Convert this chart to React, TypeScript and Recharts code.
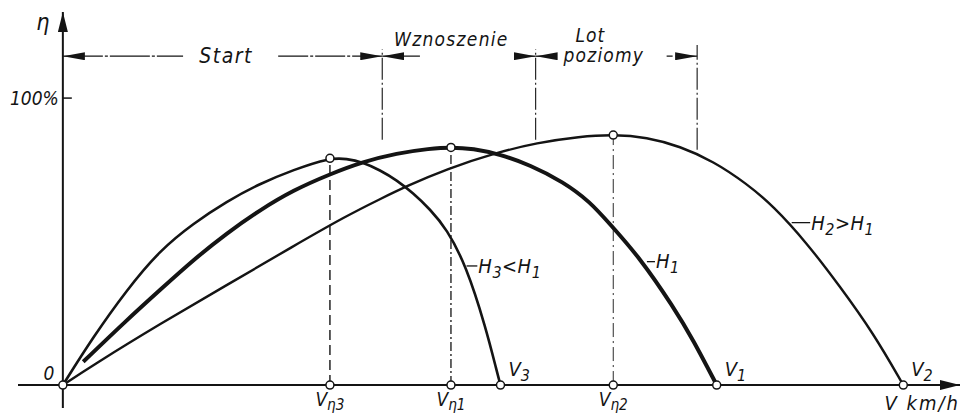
import React from "react";
import { LineChart, Line, XAxis, YAxis, ReferenceLine, ReferenceDot } from "recharts";

// krzywe sprawności śmigła η(V) dla trzech skoków H
const H3_V = [0, 3.39, 7.11, 10.82, 14.54, 18.26, 21.97, 25.68, 29.77, 31.63, 33.45, 35.35, 37.21, 39.03, 40.92, 42.78, 44.93, 47.16, 48.39, 48.78];
const H3_ETA = [0, 16.8, 33.1, 47.0, 56.3, 64.0, 70.2, 75.0, 79.2, 78.9, 77.6, 74.9, 71.4, 66.9, 61.3, 54.4, 41.8, 19.9, 4.5, 0];

const H1_V = [2.27, 7.11, 10.82, 14.54, 18.26, 21.97, 25.68, 29.77, 33.45, 37.21, 40.92, 43.26, 45.71, 48.72, 52.07, 55.78, 58.75, 60.98, 64.33, 68.04, 70.27, 72.88];
const H1_ETA = [8.1, 22.6, 33.1, 43.6, 52.9, 61.0, 67.9, 73.5, 77.8, 80.8, 82.4, 82.9, 82.4, 80.4, 76.7, 70.8, 63.9, 56.1, 44.3, 27.3, 15.7, 0];

const H2_V = [0, 3.39, 10.82, 18.26, 25.68, 31.63, 35.35, 38.32, 42.78, 48.36, 52.81, 57.64, 61.35, 65.08, 68.79, 72.5, 76.22, 79.19, 82.91, 86.63, 90.34, 93.68];
const H2_ETA = [0, 7.0, 21.3, 34.8, 48.4, 59.0, 64.8, 69.3, 75.3, 81.0, 84.4, 86.6, 87.3, 86.4, 83.2, 78.0, 70.2, 62.4, 49.6, 34.3, 18.1, 0];

// maksima (V_η, η_max) i prędkości końcowe
const PEAK_V = [29.77, 43.26, 61.35];
const PEAK_ETA = [79.0, 82.8, 87.1];
const PEAK_LABELS = ["V_{η3}", "V_{η1}", "V_{η2}"];
const END_V = [48.78, 72.88, 93.68];
const END_LABELS = ["V_{3}", "V_{1}", "V_{2}"];

// zakresy lotu
const PHASE_EDGES = [0, 35.6, 52.7, 70.7];
const PHASE_NAMES = ["Start", "Wznoszenie", "Lot poziomy"];

const toRows = (vs: number[], etas: number[]) => vs.map((v, i) => ({ v, eta: etas[i] }));

const INK = "#141414";
const FONT = "'DejaVu Sans Condensed', 'DejaVu Sans', sans-serif";

function parse(s: string) {
  return s.split(/(_\{[^}]*\})/).filter(Boolean).map(p =>
    p.startsWith("_{") ? { t: p.slice(2, -1), sub: true } : { t: p, sub: false });
}

function Note(props: any) {
  const { viewBox, text, dx = 0, dy = 0, size = 18, anchor = "middle", spacing = 1, shift = 5 } = props;
  const x = viewBox.x + (viewBox.width || 0) / 2 + dx;
  const y = viewBox.y + (viewBox.height || 0) / 2 + dy;
  const parts = parse(text);
  let down = false;
  return (
    <text x={x} y={y} fontSize={size} fontStyle="italic" fontFamily={FONT} fill={INK}
      textAnchor={anchor} letterSpacing={spacing}>
      {parts.map((p, i) => {
        let d = 0;
        if (p.sub && !down) { d = shift; down = true; }
        else if (!p.sub && down) { d = -shift; down = false; }
        return <tspan key={i} dy={d} fontSize={p.sub ? size * 0.8 : size}>{p.t}</tspan>;
      })}
    </text>
  );
}

const dot = { r: 4, fill: "#fff", stroke: INK, strokeWidth: 1.5 };
const anchorDot = { r: 0.01, fill: "none", stroke: "none" };

export default function App() {
  const dimY = 114.6;
  return (
    <div style={{ position: "absolute", left: 0, top: 0, width: 963, height: 416, background: "#fff" }}>
      <LineChart width={963} height={416} margin={{ top: 12, right: 3, bottom: 8, left: 18 }}>
        <defs>
          <marker id="arr" viewBox="0 0 22 8" refX="22" refY="4" markerWidth="22" markerHeight="8"
            orient="auto-start-reverse" markerUnits="userSpaceOnUse">
            <path d="M0,0 L22,4 L0,8 z" fill={INK} />
          </marker>
          <marker id="axarr" viewBox="0 0 20 10" refX="20" refY="5" markerWidth="20" markerHeight="10"
            orient="auto" markerUnits="userSpaceOnUse">
            <path d="M0,0 L20,5 L0,10 z" fill={INK} />
          </marker>
        </defs>
        <XAxis type="number" dataKey="v" domain={[-5, 100]} hide allowDataOverflow />
        <YAxis type="number" dataKey="eta" domain={[-8, 130]} hide allowDataOverflow />

        {/* osie */}
        <ReferenceLine segment={[{ x: -5, y: 0 }, { x: 100, y: 0 }]} stroke={INK} strokeWidth={2} markerEnd="url(#axarr)" />
        <ReferenceLine segment={[{ x: 0, y: -8 }, { x: 0, y: 130 }]} stroke={INK} strokeWidth={2} markerEnd="url(#axarr)" />
        <ReferenceLine segment={[{ x: 0, y: 100 }, { x: 1, y: 100 }]} stroke={INK} strokeWidth={1.5} />
        <ReferenceDot x={0} y={100} {...anchorDot}
          label={<Note text="100%" anchor="end" dx={-4} dy={7} size={19} spacing={0} />} />
        <ReferenceDot x={0} y={130} {...anchorDot}
          label={<Note text="η" dx={-20} dy={18} size={23} spacing={0} />} />
        <ReferenceDot x={0} y={0} {...anchorDot}
          label={<Note text="0" dx={-14} dy={-5} size={19} spacing={0} />} />
        <ReferenceDot x={100} y={0} {...anchorDot}
          label={<Note text="V km/h" anchor="end" dx={0} dy={25} size={20} spacing={2} />} />

        {/* zakresy: start / wznoszenie / lot poziomy */}
        {PHASE_EDGES.slice(1).map((v, i) => (
          <ReferenceLine key={"e" + i} segment={[{ x: v, y: i === 2 ? 82 : 85.5 }, { x: v, y: i === 2 ? 118.5 : 117 }]}
            stroke={INK} strokeWidth={1.1} strokeDasharray="22 3 2 3" />
        ))}
        <ReferenceLine segment={[{ x: PHASE_EDGES[0], y: dimY }, { x: 13.4, y: dimY }]} stroke={INK} strokeWidth={1.3}
          strokeDasharray="40 2 3 2" markerStart="url(#arr)" />
        <ReferenceLine segment={[{ x: 24.0, y: dimY }, { x: PHASE_EDGES[1], y: dimY }]} stroke={INK} strokeWidth={1.3}
          strokeDasharray="30 2 3 2" markerEnd="url(#arr)" />
        <ReferenceDot x={18.2} y={dimY} {...anchorDot}
          label={<Note text={PHASE_NAMES[0]} dy={7} size={21} spacing={1.5} />} />

        <ReferenceLine segment={[{ x: PHASE_EDGES[1], y: dimY }, { x: 39.8, y: dimY }]} stroke={INK} strokeWidth={1.3}
          markerStart="url(#arr)" />
        <ReferenceLine segment={[{ x: 50.6, y: dimY }, { x: PHASE_EDGES[2], y: dimY }]} stroke={INK} strokeWidth={1.3}
          markerEnd="url(#arr)" />
        <ReferenceDot x={43.3} y={dimY} {...anchorDot}
          label={<Note text={PHASE_NAMES[1]} dy={-10} size={19} spacing={1.3} />} />

        <ReferenceLine segment={[{ x: PHASE_EDGES[2], y: dimY }, { x: 54.3, y: dimY }]} stroke={INK} strokeWidth={1.3}
          markerStart="url(#arr)" />
        <ReferenceLine segment={[{ x: 67.3, y: dimY }, { x: PHASE_EDGES[3], y: dimY }]} stroke={INK} strokeWidth={1.3}
          strokeDasharray="6 3 30" markerEnd="url(#arr)" />
        <ReferenceDot x={58.8} y={dimY} {...anchorDot}
          label={<Note text="Lot" dy={-14} size={19} spacing={1} />} />
        <ReferenceDot x={60.3} y={dimY} {...anchorDot}
          label={<Note text="poziomy" dy={6} size={19} spacing={1.2} />} />

        {/* rzędne maksimów */}
        <ReferenceLine segment={[{ x: PEAK_V[0], y: 0 }, { x: PEAK_V[0], y: PEAK_ETA[0] }]} stroke={INK} strokeWidth={1.4} strokeDasharray="10 5" />
        <ReferenceLine segment={[{ x: PEAK_V[1], y: 0 }, { x: PEAK_V[1], y: PEAK_ETA[1] }]} stroke={INK} strokeWidth={1.3} strokeDasharray="9 3 2 3" />
        <ReferenceLine segment={[{ x: PEAK_V[2], y: 0 }, { x: PEAK_V[2], y: PEAK_ETA[2] }]} stroke={INK} strokeWidth={0.9} strokeDasharray="14 4 2 4" />

        <Line data={toRows(H2_V, H2_ETA)} dataKey="eta" type="basis" stroke={INK} strokeWidth={2.4} dot={false} isAnimationActive={false} />
        <Line data={toRows(H3_V, H3_ETA)} dataKey="eta" type="basis" stroke={INK} strokeWidth={2.6} dot={false} isAnimationActive={false} />
        <Line data={toRows(H1_V, H1_ETA)} dataKey="eta" type="basis" stroke={INK} strokeWidth={4} dot={false} isAnimationActive={false} />

        {/* opisy krzywych */}
        <ReferenceLine segment={[{ x: 45.0, y: 41.5 }, { x: 46.2, y: 41.5 }]} stroke={INK} strokeWidth={1.3} />
        <ReferenceDot x={46.2} y={41.5} {...anchorDot}
          label={<Note text="H_{3}<H_{1}" anchor="start" dx={1} dy={7} size={20} spacing={0.5} />} />
        <ReferenceLine segment={[{ x: 65.1, y: 43.0 }, { x: 66.0, y: 43.0 }]} stroke={INK} strokeWidth={1.3} />
        <ReferenceDot x={66.0} y={43.0} {...anchorDot}
          label={<Note text="H_{1}" anchor="start" dx={1} dy={6} size={20} spacing={0.5} />} />
        <ReferenceLine segment={[{ x: 81.24, y: 56.6 }, { x: 83.3, y: 56.6 }]} stroke={INK} strokeWidth={1.3} />
        <ReferenceDot x={83.3} y={56.6} {...anchorDot}
          label={<Note text="H_{2}>H_{1}" anchor="start" dx={1} dy={7} size={20} spacing={0.5} />} />

        {/* punkty charakterystyczne */}
        <ReferenceDot x={0} y={0} {...dot} />
        {PEAK_V.map((v, i) => (
          <ReferenceDot key={"p" + i} x={v} y={PEAK_ETA[i]} {...dot} />
        ))}
        {PEAK_V.map((v, i) => (
          <ReferenceDot key={"pv" + i} x={v} y={0} {...dot}
            label={<Note text={PEAK_LABELS[i]} dy={21} size={19} spacing={0} shift={4} />} />
        ))}
        {END_V.map((v, i) => (
          <ReferenceDot key={"ev" + i} x={v} y={0} {...dot}
            label={<Note text={END_LABELS[i]} anchor="start" dx={8} dy={-9} size={20} spacing={0} />} />
        ))}
      </LineChart>
    </div>
  );
}
